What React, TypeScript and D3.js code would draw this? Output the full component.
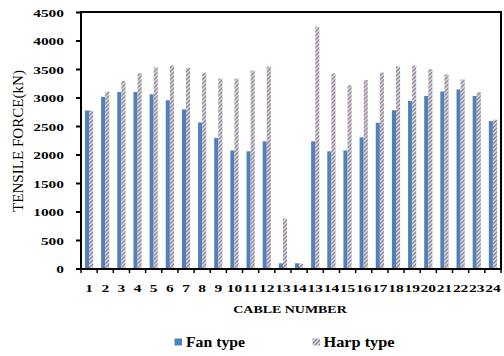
import React from "react";
import * as d3 from "d3";

const cableLabels = ["1","2","3","4","5","6","7","8","9","10","11","12","13","14","13","14","15","16","17","18","19","20","21","22","23","24"];
const fanValues = [2780,3020,3105,3105,3065,2960,2800,2570,2300,2080,2065,2240,100,100,2240,2065,2080,2310,2565,2785,2950,3035,3115,3150,3035,2595];
const harpValues = [2780,3110,3300,3435,3535,3570,3530,3445,3340,3340,3480,3550,885,95,4250,3430,3225,3315,3445,3555,3570,3505,3415,3325,3105,2620];
const seriesNames = ["Fan type", "Harp type"];
const yTicks = [0,500,1000,1500,2000,2500,3000,3500,4000,4500];

const W = 504, H = 356;
const left = 81, right = 501, top = 12.5, bottom = 269;
const FONT = "'Liberation Serif', 'Times New Roman', serif";
const BLUE = "#4F81BD";
const SX = 1.4;

export default function App() {
  const idx = cableLabels.map((_, i) => i);
  const x = d3.scaleBand<number>().domain(idx).range([left, right]).padding(0);
  const x1 = d3.scaleBand<string>().domain(seriesNames).range([0, x.bandwidth()]).paddingInner(0).paddingOuter(0.97);
  const y = d3.scaleLinear().domain([0, 4500]).range([bottom, top]);

  const boundaries = d3.range(cableLabels.length + 1).map(i => left + i * x.step());

  return (
    <svg width={W} height={H} style={{ position: "absolute", left: 0, top: 0, background: "#fff" }}>
      <defs>
        <pattern id="harp" patternUnits="userSpaceOnUse" width={4} height={4}>
          <rect width={4} height={4} fill="#DFE8C3" />
          <path d="M-1,1 l2,-2 M0,4 l4,-4 M3,5 l2,-2" stroke="#8B72B5" strokeWidth={1.25} />
        </pattern>
      </defs>

      {/* bars */}
      {idx.map(i => (
        <g key={i} transform={`translate(${x(i)},0)`}>
          <rect x={x1("Fan type")} y={y(fanValues[i])} width={x1.bandwidth()} height={bottom - y(fanValues[i])} fill={BLUE} />
          <rect x={x1("Harp type")} y={y(harpValues[i])} width={x1.bandwidth()} height={bottom - y(harpValues[i])} fill="url(#harp)" />
        </g>
      ))}

      {/* frame */}
      <line x1={left} x2={right} y1={top - 0.5} y2={top - 0.5} stroke="#000" strokeWidth={2} />
      <line x1={right} x2={right} y1={top - 1.5} y2={bottom} stroke="#000" strokeWidth={2} />
      <line x1={left} x2={left} y1={top - 1.5} y2={bottom + 1} stroke="#000" strokeWidth={2} />
      <line x1={left - 1} x2={right + 1} y1={bottom} y2={bottom} stroke="#000" strokeWidth={2} />

      {/* y ticks */}
      {yTicks.map(t => (
        <g key={t}>
          <line x1={left - 5} x2={left} y1={y(t)} y2={y(t)} stroke="#000" strokeWidth={2} />
          <g transform={`translate(64,${y(t) + 4}) scale(${SX},1)`}>
            <text textAnchor="end" fontFamily={FONT} fontWeight="bold" fontSize={11} fill="#000">{t}</text>
          </g>
        </g>
      ))}

      {/* x ticks */}
      {boundaries.map((b, i) => (
        <line key={i} x1={b} x2={b} y1={bottom} y2={bottom + 4} stroke="#000" strokeWidth={1.5} />
      ))}
      {idx.map(i => (
        <g key={i} transform={`translate(${x(i)! + x.bandwidth() / 2},292) scale(${SX},1)`}>
          <text textAnchor="middle" fontFamily={FONT} fontWeight="bold" fontSize={11} fill="#000">{cableLabels[i]}</text>
        </g>
      ))}

      {/* axis titles */}
      <g transform={`translate(290,313) scale(${SX},1)`}>
        <text textAnchor="middle" fontFamily={FONT} fontWeight="bold" fontSize={11} fill="#000"
          textLength={81} lengthAdjust="spacingAndGlyphs">CABLE NUMBER</text>
      </g>
      <g transform={`translate(23,141) scale(${SX},1) rotate(-90)`}>
        <text textAnchor="middle" fontFamily={FONT} fontSize={11} fill="#000"
          textLength={142} lengthAdjust="spacingAndGlyphs">TENSILE  FORCE(kN)</text>
      </g>

      {/* legend */}
      <rect x={174.5} y={338.5} width={7.5} height={7} fill={BLUE} />
      <text x={186} y={347} fontFamily={FONT} fontWeight="bold" fontSize={14} fill="#000"
        textLength={59} lengthAdjust="spacingAndGlyphs">{seriesNames[0]}</text>
      <rect x={312.5} y={338.5} width={7.5} height={7} fill="url(#harp)" />
      <text x={323.5} y={347} fontFamily={FONT} fontWeight="bold" fontSize={14} fill="#000"
        textLength={71} lengthAdjust="spacingAndGlyphs">{seriesNames[1]}</text>
    </svg>
  );
}
